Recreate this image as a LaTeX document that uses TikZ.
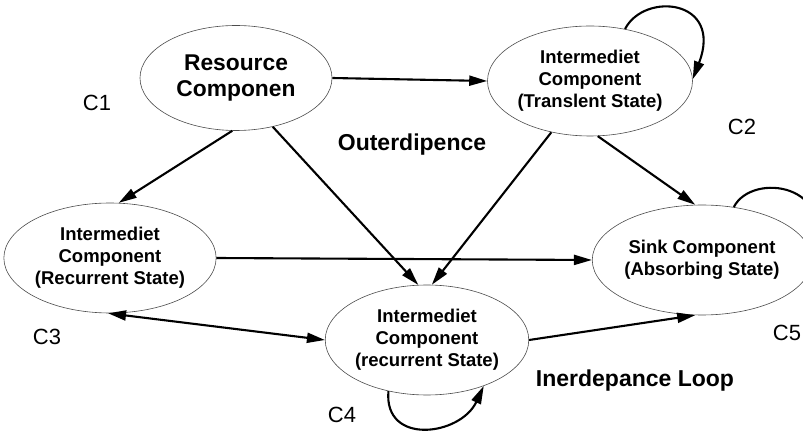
\documentclass[tikz,border=0pt]{standalone}
\usepackage{fontspec}
\setmainfont{Liberation Sans}
\usetikzlibrary{positioning,arrows.meta,shapes.geometric}
\tikzset{
  comp/.style={ellipse, draw=black!70, line width=0.6pt, inner sep=0pt, on grid,
               minimum width=196pt, minimum height=110pt, align=center,
               font=\fontsize{18.5}{22}\selectfont\bfseries},
  tag/.style={on grid, font=\fontsize{22}{26}\selectfont},
  note/.style={on grid, font=\fontsize{23}{27}\selectfont\bfseries},
  ar/.style={-{Triangle[length=18pt,width=10pt]}, line width=2.1pt},
  dar/.style={{Triangle[length=18pt,width=10pt]}-{Triangle[length=18pt,width=10pt]}, line width=2.1pt},
}
\begin{document}
\begin{tikzpicture}
\useasboundingbox (-236pt,78pt) rectangle (567pt,-360pt);

% --- components ---
\node[comp, minimum width=192pt, minimum height=105pt,
      font=\fontsize{22.8}{26}\selectfont\bfseries] (res) at (0,0) {Resource\\Componen};
\node[comp] (tra) [below right=3pt and 354pt of res] {Intermediet\\Component\\(Translent State)};
\node[comp] (rec) [below left=180pt and 126pt of res] {Intermediet\\Component\\(Recurrent State)};
\node[comp] (bot) [below right=262pt and 191pt of res] {Intermediet\\Component\\(recurrent State)};
\node[comp, minimum width=198pt] (snk) [below right=179pt and 112pt of tra] {Sink Component\\(Absorbing State)};

% --- labels ---
\node[tag] (c1) [below left=25pt and 139pt of res] {C1};
\node[tag] (c2) [below right=46pt and 152pt of tra] {C2};
\node[tag] (c3) [below left=79pt and 63pt of rec] {C3};
\node[tag] (c4) [below left=75pt and 85pt of bot] {C4};
\node[tag] (c5) [below right=73pt and 85pt of snk] {C5};
\node[note] (outer) [below right=67pt and 176pt of res] {Outerdipence};
\node[note] (inner) [below right=41pt and 208pt of bot] {Inerdepance Loop};

% --- connectors ---
\draw[ar] (res.east) -- (tra.west);
\draw[ar] (res.266) -- (rec.81);
\draw[ar] (res.307) -- (bot.99);
\draw[ar] (tra.233) -- (bot.85);
\draw[ar] (tra.278) -- (snk.97);
\draw[ar] (rec.east) -- (snk.west);
\draw[dar] (rec.268) -- (bot.west);
\draw[ar] (bot.east) -- (snk.263);

% --- loops ---
\draw[ar] (tra.56) to[out=63, in=69, out distance=42pt, in distance=86pt] (tra.1);
\draw[line width=2.1pt] (snk.59) to[out=63, in=69, out distance=40pt, in distance=80pt] (snk.1);
\draw[ar] (bot.233) to[out=265, in=245, out distance=55pt, in distance=55pt] (bot.321);

\end{tikzpicture}
\end{document}
